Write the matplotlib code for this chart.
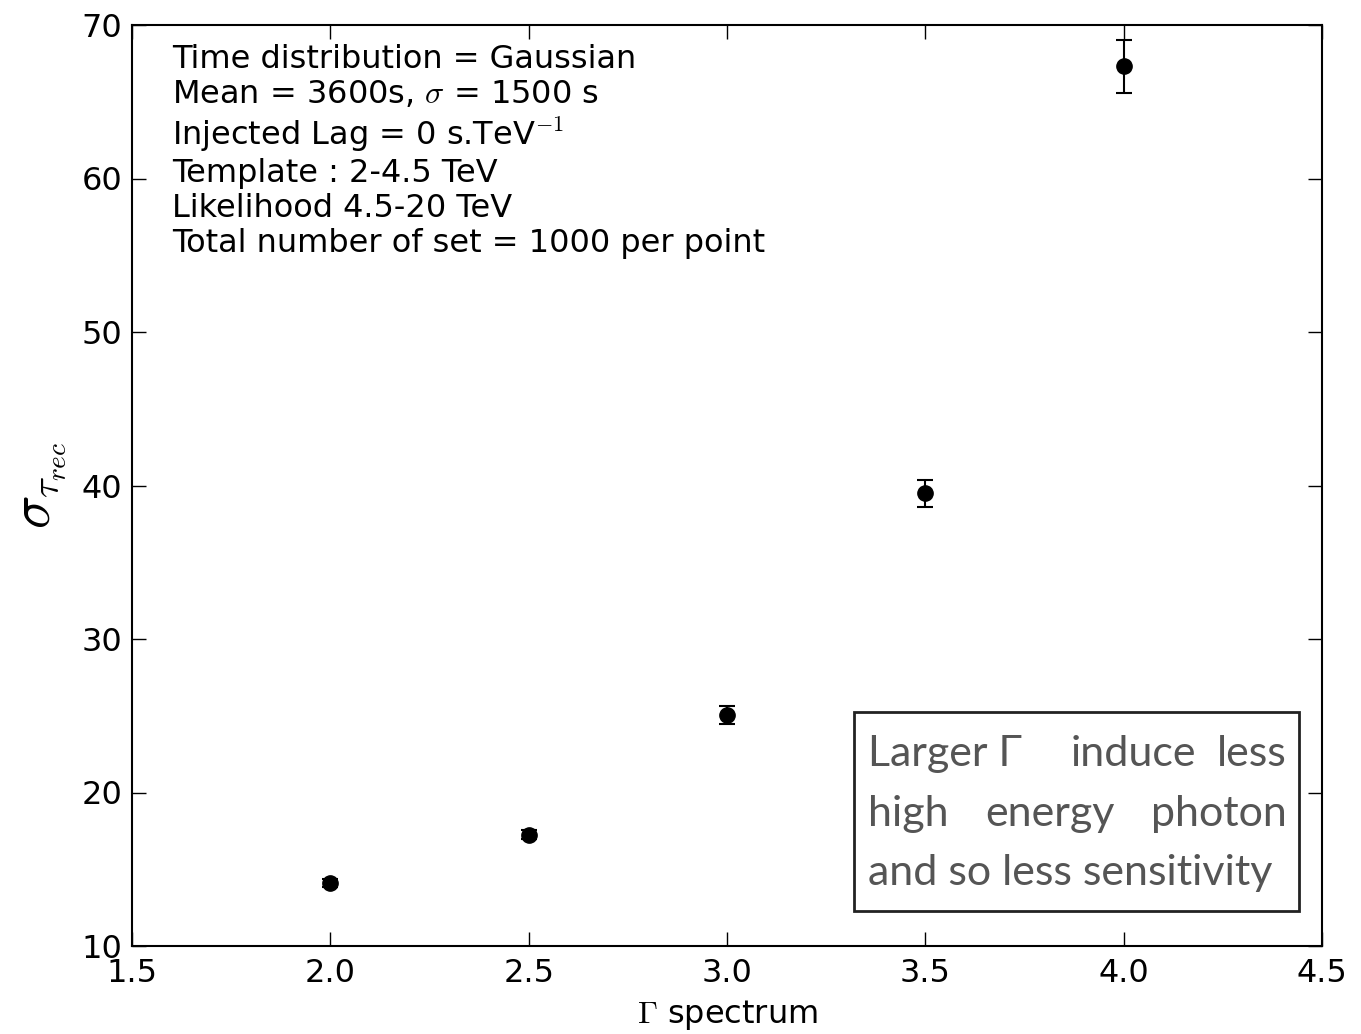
import numpy as np
import matplotlib
matplotlib.use('Agg')
import matplotlib.pyplot as plt
from matplotlib.patches import Rectangle

plt.rcParams['mathtext.fontset']='cm'
plt.rcParams['font.family']='DejaVu Sans'

## data
gamma=[2.0,2.5,3.0,3.5,4.0]
sigma_rec=[14.1,17.25,25.05,39.5,67.3]
sigma_err=[0.25,0.3,0.6,0.88,1.73]

info=('Time distribution = Gaussian\n'
      'Mean = 3600s, $\\sigma$ = 1500 s\n'
      'Injected Lag = 0 s.TeV$^{-1}$\n'
      'Template : 2-4.5 TeV\n'
      'Likelihood 4.5-20 TeV\n'
      'Total number of set = 1000 per point')

W,H=1361,1034
fig=plt.figure(figsize=(W/100.,H/100.),dpi=100)
ax=fig.add_axes([132./W,1-946./H,(1322.-132)/W,(946.-25)/H])

ax.errorbar(gamma,sigma_rec,yerr=sigma_err,fmt='o',color='k',ms=11,capsize=6,elinewidth=1.5,capthick=1.5)

ax.set_xlim(1.5,4.5)
ax.set_ylim(10,70)
ax.set_xticks(np.arange(1.5,4.51,0.5))
ax.set_yticks(np.arange(10,71,10))
ax.tick_params(direction='in',length=10,width=1,top=True,right=True,labelsize=23)
ax.tick_params(axis='x',pad=9)
ax.tick_params(axis='y',pad=7)
for s in ax.spines.values():
    s.set_linewidth(1.5)

ax.set_xlabel('$\\Gamma$ spectrum',fontsize=23,labelpad=6)
ax.set_ylabel('$\\sigma_{\\tau_{rec}}$',fontsize=40,labelpad=10)

ax.text(0.0336,0.979,info,transform=ax.transAxes,fontsize=23,va='top',ha='left',linespacing=1.17)

## comment box (justified by hand)
def px(x,y):
    return (x/W,1-y/H)
fig.patches.append(Rectangle(px(854,911),(1299.-854)/W,(911.-712)/H,transform=fig.transFigure,
                             facecolor='white',edgecolor='#222222',lw=2))
gc='#555555'
kw=dict(fontsize=31,color=gc,family=['Lato','DejaVu Sans'],fontweight='normal',va='baseline')
fig.text(*px(868,766),'Larger \u0393',ha='left',**kw)
fig.text(*px(1133,766),'induce',ha='center',**kw)
fig.text(*px(1287,766),'less',ha='right',**kw)
fig.text(*px(868,826),'high',ha='left',**kw)
fig.text(*px(1050,826),'energy',ha='center',**kw)
fig.text(*px(1287,826),'photon',ha='right',**kw)
fig.text(*px(868,885),'and so less sensitivity',ha='left',**kw)

plt.savefig('out.png',dpi=100)
